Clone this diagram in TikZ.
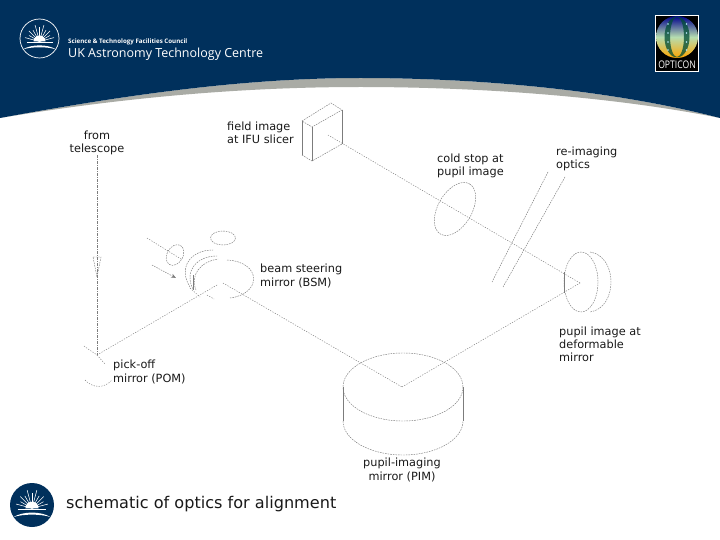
\documentclass[tikz,border=0pt]{standalone}
\usepackage{fontspec}
\setmainfont{DejaVu Sans}
\newfontfamily\titlefont{Open Sans}
\usetikzlibrary{arrows.meta, positioning}
\definecolor{headernavy}{HTML}{00305C}
\definecolor{bandgrey}{HTML}{A9ABA5}
\definecolor{linegrey}{HTML}{7C7C7C}
\definecolor{ballgreen}{HTML}{B6DDB0}

\begin{document}
\begin{tikzpicture}[
    x=1pt, y=-1pt,
    label/.style={
        inner sep=0pt, align=left, anchor=west, text=black!90,
        font=\fontsize{11.3}{13.2}\selectfont
    },
    beam/.style={
        draw=linegrey, line width=0.45pt, dash pattern=on 1.2pt off 1.4pt
    },
    optic/.style={
        draw=linegrey, line width=0.45pt, dash pattern=on 1.6pt off 1pt
    },
    solidedge/.style={
        draw=linegrey, line width=0.5pt
    },
    sunlogo/.pic={
        \fill[white] (-6,3) arc[start angle=180, end angle=360, radius=6] -- cycle;
        \foreach \a/\r in {-165/15,-150/12,-135/15,-120/13,-105/17,-90/14,-75/17,-60/13,-45/15,-30/12,-15/15}
            \draw[white, line width=0.55pt] (0,3) -- ++(\a:\r);
        \draw[white, line width=0.9pt] (-13,4) -- (13,4);
        \fill[white] (-17,11) .. controls (-8,5.5) and (8,5.5) .. (17,11)
            .. controls (8,8) and (-8,8) .. cycle;
    },
]
\useasboundingbox (0,0) rectangle (720,540);
\fill[white] (0,0) rectangle (720,540);

% header
\fill[bandgrey] (0,118) .. controls (120,96) and (240,78) .. (360,78)
    .. controls (490,78) and (620,92) .. (720,118)
    .. controls (620,98) and (490,87) .. (360,87)
    .. controls (240,87) and (120,98) .. cycle;
\fill[headernavy] (0,0) -- (720,0) -- (720,118)
    .. controls (620,92) and (490,78) .. (360,78)
    .. controls (240,78) and (120,96) .. (0,118) -- cycle;

% logos
\draw[white, line width=0.7pt] (39.5,38.5) circle (19.5);
\pic at (39.5,38.5) {sunlogo};
\node[inner sep=0pt, anchor=west, text=white, font=\titlefont\bfseries\fontsize{6.2}{7}\selectfont] (stfc) at (68,41.5) {Science \& Technology Facilities Council};
\node[inner sep=0pt, anchor=west, text=white, font=\titlefont\fontsize{12.5}{15}\selectfont] (ukatc) at (68,54.5) {UK Astronomy Technology Centre};
\fill[headernavy] (32,505) circle (22);
\pic[scale=1.1] at (32,505) {sunlogo};

\fill[white] (655,15) rectangle (699,72);
\fill[black] (656,16) rectangle (698,71);
\shade[top color=blue!55!black, bottom color=orange!70!yellow, middle color=ballgreen] (677,37) circle (21);
\fill[blue!30!black!70!green, opacity=0.75, even odd rule] (677,37) ellipse (12.5 and 20.5) (677,37) ellipse (7 and 20);
\foreach \yy in {24,33,42,50} {
    \fill[white!70!cyan] (668,\yy) circle (0.9);
    \fill[white!70!cyan] (686.5,\yy) circle (0.9);
}
\node[inner sep=0pt, text=white, font=\titlefont\fontsize{10.5}{11}\selectfont, xscale=0.82] (opticon) at (677,65) {OPTICON};

% labels
\node[label, align=center, anchor=center] (telescope) at (97,143) {from\\telescope};
\node[label] (slicerlabel) at (227,132.5) {field image\\at IFU slicer};
\node[label] (stoplabel) at (437,165.5) {cold stop at\\pupil image};
\node[label] (relaylabel) at (556,159) {re-imaging\\optics};
\node[label] (bsmlabel) at (260,276) {beam steering\\mirror (BSM)};
\node[label] (pomlabel) at (113,372) {pick-off\\mirror (POM)};
\node[label] (dmlabel) at (559,344) {pupil image at\\deformable\\mirror};
\node[label, align=center, anchor=center] (pimlabel) at (402,470) {pupil-imaging\\mirror (PIM)};
\node[inner sep=0pt, anchor=west, text=black!90, font=\fontsize{16.1}{18}\selectfont] (caption) at (66,504) {schematic of optics for alignment};

% beam
\coordinate (pomhit) at (97,355);
\coordinate (bsmin) at (217,285);
\coordinate (bsmout) at (223,283);
\coordinate (pimhit) at (402,387);
\coordinate (dmhit) at (580,283);
\coordinate (slicerhit) at (328,135);
\draw[linegrey, line width=0.45pt, dash pattern=on 3pt off 1pt on 1pt off 1pt] (telescope) -- (pomhit);
\draw[beam] (pomhit) -- (bsmin);
\draw[beam] (bsmout) -- (pimhit);
\draw[beam] (pimhit) -- (dmhit);
\draw[beam] (dmhit) -- (slicerhit);
\draw[optic] (93,257) -- (101,257) -- (97,277) -- cycle;

% pick-off mirror
\draw[beam] (84,346) .. controls (89,350) and (93,352) .. (pomhit);
\draw[beam] (pomhit) -- (105,364);
\draw[beam] (85,380) .. controls (92,388) and (104,389) .. (112,380);

% beam steering mirror
\draw[optic] (223,238) ellipse (12.5 and 7);
\draw[optic, shift={(175,255)}, rotate=60] (0,0) ellipse (11 and 8);
\draw[beam] (147,238) -- (181,259);
\draw[linegrey, line width=0.45pt, dash pattern=on 1.5pt off 1pt, -{Stealth[length=5pt, width=4pt]}] (152,265) -- (176,278);
\draw[optic] (190,287) .. controls (178,268) and (190,250) .. (213,250);
\draw[optic] (193,289) .. controls (184,272) and (196,256) .. (217,256);
\draw[optic] (196,290) .. controls (190,275) and (200,262) .. (218,259);
\draw[optic] (227,260) .. controls (262,262) and (262,294) .. (230,298);
\draw[solidedge] (193,275) -- (193,290);
\draw[beam] (190,288) -- (200,297);
\draw[beam] (207,295) -- (214,299);

% field image at slicer
\draw[optic] (302,121) -- (331,103) -- (342,110) -- (312,127) -- cycle;
\draw[solidedge] (302,121) -- (302,155);
\draw[solidedge] (312,127) -- (312,161);
\draw[solidedge] (342,110) -- (342,144);
\draw[optic] (302,155) -- (312,161) -- (342,144);

% cold stop
\draw[optic, shift={(455,209)}, rotate=60] (0,0) ellipse (29 and 17);

% re-imaging optics
\draw[optic] (548,172) -- (492,282);
\draw[optic] (565,177) -- (503,287);

% deformable mirror
\draw[optic] (581,282) ellipse (17 and 30);
\draw[optic] (590,252) .. controls (618,256) and (618,308) .. (590,312);
\draw[solidedge] (564,272) -- (564,293);

% pupil-imaging mirror
\draw[optic] (403,387) ellipse (60 and 34);
\draw[solidedge] (343,387) -- (343,421);
\draw[solidedge] (463,387) -- (463,421);
\draw[optic] (343,421) arc[start angle=180, end angle=0, x radius=60, y radius=34];
\end{tikzpicture}
\end{document}
